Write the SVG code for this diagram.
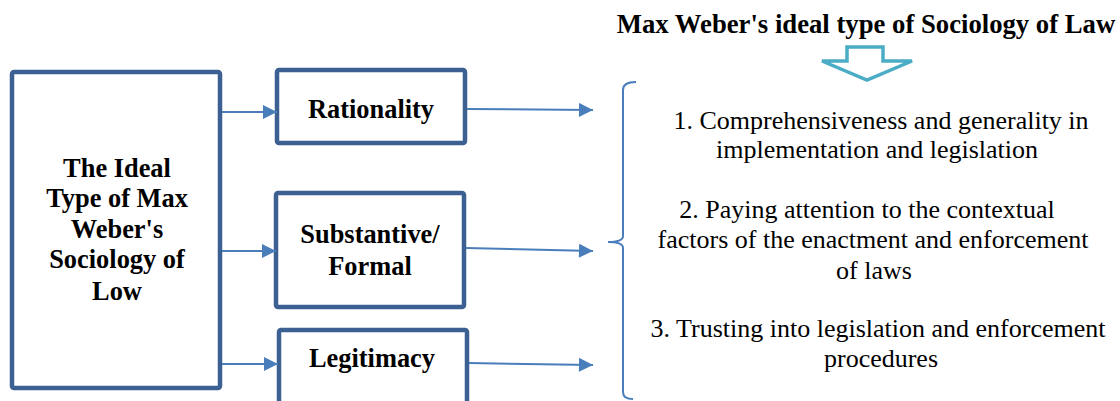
<svg xmlns="http://www.w3.org/2000/svg" width="1120" height="401" viewBox="0 0 1120 401">
<defs>
<style>
.box{fill:#fff;stroke:#3B6091;stroke-width:4.5}
.con{stroke:#4A7EBB;stroke-width:2;fill:none}
.b{font-weight:bold;font-size:26.4px;fill:#000;text-anchor:middle}
.r{font-size:26px;fill:#000;text-anchor:middle}
</style>
<marker id="ah" viewBox="0 0 10 10" refX="10" refY="5" markerWidth="8" markerHeight="7" markerUnits="strokeWidth" orient="auto">
<path d="M0,0 L10,5 L0,10 z" fill="#4A7EBB"/>
</marker>
</defs>
<rect width="1120" height="401" fill="#fff"/>
<g font-family="'Liberation Serif', Tinos, 'Times New Roman', 'DejaVu Serif', serif">
<g id="title">
<text class="b" x="866" y="33" style="font-size:26.7px">Max Weber's ideal type of Sociology of Law</text>
<path d="M847,47 H883 V61 H912 L867,80 L822,61 H847 Z" fill="#fff" stroke="#4BACC6" stroke-width="3.5"/>
</g>
<g id="main">
<rect class="box" x="12" y="72" width="208" height="316" rx="2"/>
<text class="b" x="117" y="177">The Ideal</text>
<text class="b" x="117" y="207">Type of Max</text>
<text class="b" x="117" y="238">Weber's</text>
<text class="b" x="117" y="268">Sociology of</text>
<text class="b" x="117" y="300">Low</text>
</g>
<g id="rationality">
<rect class="box" x="277" y="70" width="188" height="73" rx="2"/>
<text class="b" x="371" y="118">Rationality</text>
</g>
<g id="substantive">
<rect class="box" x="276" y="193" width="188" height="114" rx="2"/>
<text class="b" x="370" y="243">Substantive/</text>
<text class="b" x="370" y="275">Formal</text>
</g>
<g id="legitimacy">
<rect class="box" x="279" y="330" width="188" height="80" rx="2"/>
<text class="b" x="372" y="367">Legitimacy</text>
</g>
<g id="items">
<text class="r" x="881" y="129">1. Comprehensiveness and generality in</text>
<text class="r" x="877" y="158">implementation and legislation</text>
<text class="r" x="867" y="218">2. Paying attention to the contextual</text>
<text class="r" x="873" y="248">factors of the enactment and enforcement</text>
<text class="r" x="874" y="279">of laws</text>
<text class="r" x="878" y="337">3. Trusting into legislation and enforcement</text>
<text class="r" x="881" y="367">procedures</text>
</g>
</g>
<g id="connectors">
<line class="con" x1="222" y1="112" x2="277" y2="112" marker-end="url(#ah)"/>
<line class="con" x1="222" y1="251" x2="276" y2="251" marker-end="url(#ah)"/>
<line class="con" x1="222" y1="364" x2="278" y2="364" marker-end="url(#ah)"/>
<line class="con" x1="467" y1="109" x2="593" y2="110" marker-end="url(#ah)"/>
<line class="con" x1="466" y1="248" x2="593" y2="251" marker-end="url(#ah)"/>
<line class="con" x1="469" y1="363" x2="593" y2="365" marker-end="url(#ah)"/>
<path class="con" d="M636,82 Q623,82 623,90 V236 Q623,242 608,242 Q623,242 623,248 V392 Q623,399 633,399"/>
</g>
</svg>
